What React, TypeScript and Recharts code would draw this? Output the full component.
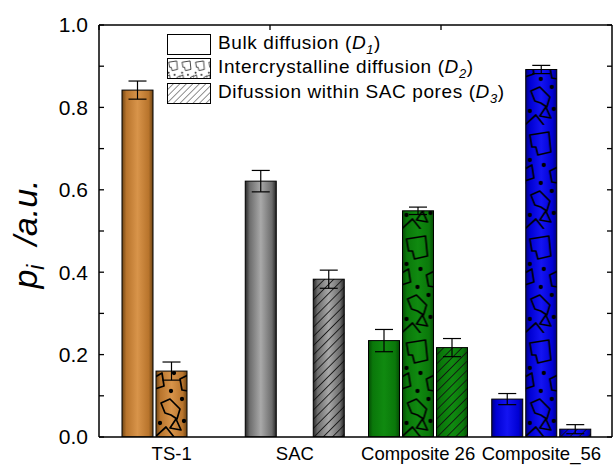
import React from 'react'
import { Bar, BarChart, ErrorBar, Legend, XAxis, YAxis } from 'recharts'

const categories = ['TS-1', 'SAC', 'Composite 26', 'Composite_56']
const bulk = [0.842, 0.621, 0.234, 0.092]
const bulkErr = [0.022, 0.026, 0.027, 0.0135]
const inter = [0.16, null, 0.549, 0.892]
const interErr = [0.022, null, 0.009, 0.01]
const sacPores = [null, 0.383, 0.217, 0.019]
const sacPoresErr = [null, 0.022, 0.022, 0.011]
const yTicks = [0, 0.1, 0.2, 0.3, 0.4, 0.5, 0.6, 0.7, 0.8, 0.9, 1.0]
const topTicks = [0, 1, 2, 3, 4, 5, 6, 7]

const rows = categories.map((name, i) => ({
  name,
  bulk: bulk[i],
  bulkErr: bulkErr[i],
  inter: inter[i],
  interErr: interErr[i],
  sacPores: sacPores[i],
  sacPoresErr: sacPoresErr[i]
}))

const FONT = '"Liberation Sans", Arial, sans-serif'

// edge, mid, centre colour per sample
const palette = [
  ['#6e4515', '#b8742c', '#d8944a'],
  ['#262626', '#6c6c6c', '#a9a9a9'],
  ['#054a05', '#0a780a', '#108a10'],
  ['#000080', '#0000d4', '#1414f2']
]

const grainShapes = (
  <g fill="none" stroke="#000" strokeWidth={1.7} strokeLinejoin="round">
    <polygon points="4,10 23,7 25,27 12,30 10,22 6,22" />
    <polygon points="-1,44 6,40 8,53 -1,56" />
    <polygon points="24,46 32,42 32,58 26,57" />
    <polygon points="5,70 14,66 24,76 21,86 15,82 9,80" />
    <polygon points="14,95 20,86 25,97" />
    <polyline points="-1,104 10,94 18,104" />
    <circle cx={4} cy={35} r={1.3} fill="#000" />
    <circle cx={18} cy={40} r={1.3} fill="#000" />
    <circle cx={15} cy={58} r={1.3} fill="#000" />
    <circle cx={26} cy={66} r={1.3} fill="#000" />
    <circle cx={4} cy={90} r={1.3} fill="#000" />
    <circle cx={28} cy={88} r={1.3} fill="#000" />
  </g>
)

function makeShape(kind: 'd1' | 'd2' | 'd3') {
  return (props: any) => {
    const { x, y, width, height, payload } = props
    if (height == null || !(height > 0)) return <g />
    const ci = Math.max(0, categories.indexOf(payload?.name))
    const c = palette[ci]
    const gid = `g-${kind}-${ci}`
    const pid = `p-${kind}-${ci}`
    const bottom = y + height
    return (
      <g>
        <defs>
          <linearGradient id={gid} x1="0" x2="1" y1="0" y2="0">
            <stop offset="0%" stopColor={c[0]} />
            <stop offset="14%" stopColor={c[1]} />
            <stop offset="50%" stopColor={c[2]} />
            <stop offset="86%" stopColor={c[1]} />
            <stop offset="100%" stopColor={c[0]} />
          </linearGradient>
          {kind === 'd2' && (
            <pattern id={pid} patternUnits="userSpaceOnUse" width={32} height={104}
              patternTransform={`translate(${x},${bottom})`}>
              {grainShapes}
            </pattern>
          )}
          {kind === 'd3' && (
            <pattern id={pid} patternUnits="userSpaceOnUse" width={6.5} height={6.5}
              patternTransform={`translate(${x},${bottom}) rotate(45)`}>
              <line x1={0} y1={0} x2={0} y2={6.5} stroke="#111" strokeWidth={1.7} />
            </pattern>
          )}
        </defs>
        <rect x={x} y={y} width={width} height={height} fill={`url(#${gid})`} />
        {kind !== 'd1' && <rect x={x} y={y} width={width} height={height} fill={`url(#${pid})`} />}
        <rect x={x} y={y} width={width} height={height} fill="none" stroke="#000" strokeWidth={1} />
      </g>
    )
  }
}

const legendItems = [
  { kind: 'd1', text: 'Bulk diffusion (', sub: '1' },
  { kind: 'd2', text: 'Intercrystalline diffusion (', sub: '2' },
  { kind: 'd3', text: 'Difussion within SAC pores (', sub: '3' }
]

function LegendBox() {
  return (
    <div style={{ fontFamily: FONT, fontSize: 19, color: '#000', letterSpacing: 0.6 }}>
      {legendItems.map((it) => (
        <div key={it.kind} style={{ display: 'flex', alignItems: 'center', height: 24.5 }}>
          <svg width={44} height={21} style={{ marginRight: 7 }}>
            <defs>
              <pattern id="lg-grain" patternUnits="userSpaceOnUse" width={32} height={104}
                patternTransform="scale(0.42)">
                {grainShapes}
              </pattern>
              <pattern id="lg-hatch" patternUnits="userSpaceOnUse" width={4.6} height={4.6}
                patternTransform="rotate(45)">
                <line x1={0} y1={0} x2={0} y2={4.6} stroke="#222" strokeWidth={1} />
              </pattern>
            </defs>
            <rect x={0.5} y={0.5} width={43} height={20} fill="#fff" />
            {it.kind === 'd2' && <rect x={0.5} y={0.5} width={43} height={20} fill="url(#lg-grain)" />}
            {it.kind === 'd3' && <rect x={0.5} y={0.5} width={43} height={20} fill="url(#lg-hatch)" />}
            <rect x={0.5} y={0.5} width={43} height={20} fill="none" stroke="#000" strokeWidth={1} />
          </svg>
          <span>
            {it.text}
            <i>D</i>
            <sub style={{ fontSize: 13, fontStyle: 'italic' }}>{it.sub}</sub>)
          </span>
        </div>
      ))}
    </div>
  )
}

function YTitle() {
  return (
    <text x={37} y={234} transform="rotate(-90, 37, 234)" textAnchor="middle"
      fontFamily={FONT} fontSize={34} fontStyle="italic" fill="#000">
      <tspan>p</tspan>
      <tspan fontSize={23} dy={7}>i</tspan>
      <tspan dy={-7}>{'\u00A0\u00A0/a.u.'}</tspan>
    </text>
  )
}

const leftTick = (v: number) => (Math.round(v * 10) % 2 === 0 ? v.toFixed(1) : '')

export default function App() {
  return (
    <div style={{ position: 'absolute', left: 0, top: 0, width: 614, height: 465, background: '#fff' }}>
      <BarChart width={614} height={465} data={rows} barCategoryGap={12} barGap={3}
        margin={{ top: 24, right: 1, bottom: 0, left: 0 }}>
        <XAxis dataKey="name" height={28} padding={{ left: 11, right: 9 }}
          axisLine={{ stroke: '#000', strokeWidth: 1.5 }} tickLine={false} tickSize={0} tickMargin={10}
          tick={{ fill: '#000', fontSize: 18.5, fontFamily: FONT }} interval={0} />
        <XAxis xAxisId="top" orientation="top" type="number" height={1} domain={[-0.717, 7.638]}
          allowDataOverflow ticks={topTicks} tickFormatter={() => ''} tickSize={-5}
          axisLine={{ stroke: '#000', strokeWidth: 1.5 }} tickLine={{ stroke: '#000', strokeWidth: 1.3 }} />
        <YAxis width={99} domain={[0, 1]} ticks={yTicks} allowDataOverflow tickFormatter={leftTick}
          tickSize={-5} tickMargin={16} axisLine={{ stroke: '#000', strokeWidth: 1.5 }}
          tickLine={{ stroke: '#000', strokeWidth: 1.3 }}
          tick={{ fill: '#000', fontSize: 21, fontFamily: FONT }}
          label={{ content: () => <YTitle /> }} />
        <YAxis yAxisId="right" orientation="right" width={1} domain={[0, 1]} ticks={yTicks}
          allowDataOverflow tickFormatter={() => ''} tickSize={-5}
          axisLine={{ stroke: '#000', strokeWidth: 1.5 }} tickLine={{ stroke: '#000', strokeWidth: 1.3 }} />
        <Legend layout="vertical" align="center" verticalAlign="middle" content={() => <LegendBox />}
          wrapperStyle={{ left: 167, top: 32, width: 'auto' }} />
        <Bar dataKey="bulk" isAnimationActive={false} shape={makeShape('d1')}>
          <ErrorBar dataKey="bulkErr" width={9} stroke="#000" strokeWidth={1.2} direction="y" />
        </Bar>
        <Bar dataKey="inter" isAnimationActive={false} shape={makeShape('d2')}>
          <ErrorBar dataKey="interErr" width={9} stroke="#000" strokeWidth={1.2} direction="y" />
        </Bar>
        <Bar dataKey="sacPores" isAnimationActive={false} shape={makeShape('d3')}>
          <ErrorBar dataKey="sacPoresErr" width={9} stroke="#000" strokeWidth={1.2} direction="y" />
        </Bar>
      </BarChart>
    </div>
  )
}
